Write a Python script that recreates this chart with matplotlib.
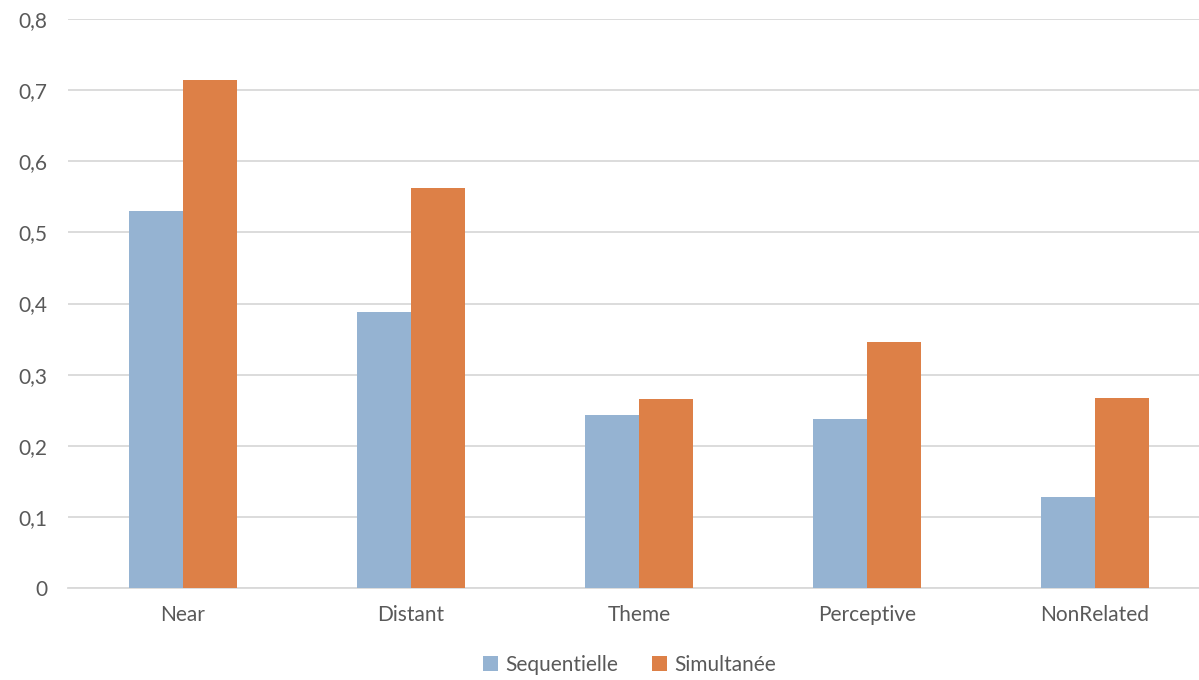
import numpy as np
import matplotlib.pyplot as plt

# categories and the two series
categories = ["Near", "Distant", "Theme", "Perceptive", "NonRelated"]
sequentielle = [0.530, 0.388, 0.243, 0.238, 0.128]
simultanee = [0.714, 0.562, 0.266, 0.346, 0.267]
yticks = [0, 0.1, 0.2, 0.3, 0.4, 0.5, 0.6, 0.7, 0.8]
ytick_labels = ["0", "0,1", "0,2", "0,3", "0,4", "0,5", "0,6", "0,7", "0,8"]

plt.rcParams['font.family'] = ['Lato', 'DejaVu Sans']
text_col = "#595959"
grid_col = "#D9D9D9"

fig = plt.figure(figsize=(11.99, 6.8), dpi=100)
ax = fig.add_axes([68 / 1199, 92 / 680, 1131 / 1199, 569 / 680])

x = np.arange(len(categories))
w = 0.237
ax.bar(x - w / 2, sequentielle, width=w, color="#95B3D2", label="Sequentielle", zorder=3)
ax.bar(x + w / 2, simultanee, width=w, color="#DD8047", label="Simultanée", zorder=3)

ax.set_xlim(-0.504, 4.456)
ax.set_ylim(0, 0.8)
ax.set_yticks(yticks)
ax.set_yticklabels(ytick_labels)
ax.set_xticks(x)
ax.set_xticklabels(categories)

ax.grid(axis="y", color=grid_col, linewidth=1.3, zorder=0)
for s in ["top", "right", "left"]:
    ax.spines[s].set_visible(False)
ax.spines["bottom"].set_color(grid_col)
ax.spines["bottom"].set_linewidth(1.3)
ax.tick_params(axis="both", length=0, labelsize=15, colors=text_col)
ax.tick_params(axis="y", pad=15)
ax.tick_params(axis="x", pad=12)

fig.legend(loc="center", bbox_to_anchor=(0.525, 0.022), ncol=2, frameon=False,
           fontsize=15, labelcolor=text_col, handlelength=0.75, handleheight=0.75,
           handletextpad=0.35, columnspacing=1.6)

fig.savefig("out.png", dpi=100)
